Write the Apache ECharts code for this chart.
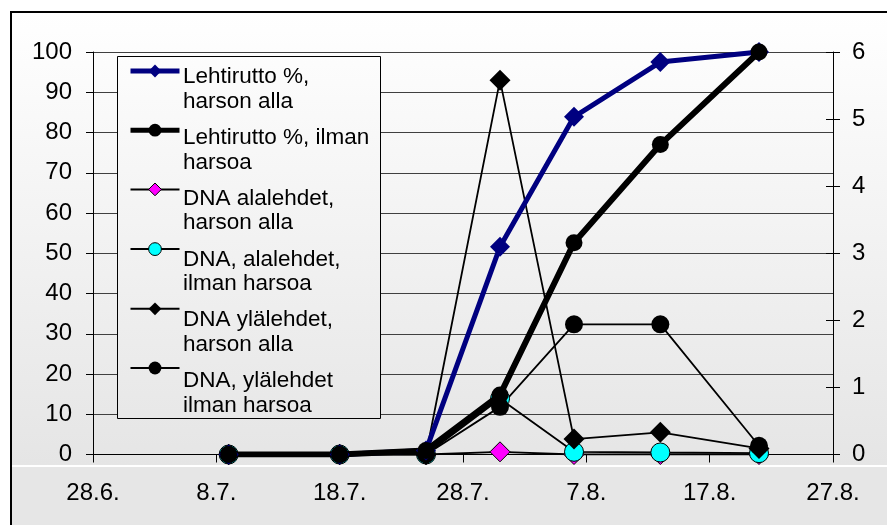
<!DOCTYPE html>
<html><head><meta charset="utf-8">
<script src="https://cdn.jsdelivr.net/npm/echarts@6/dist/echarts.min.js"></script>
<style>html,body{margin:0;padding:0;background:#fff}#c{width:887px;height:525px}</style>
</head><body><div id="c"></div>
<script>
// sampling dates (day.month.)
const sampleDates = ['9.7.', '18.7.', '25.7.', '31.7.', '6.8.', '13.8.', '21.8.'];
const axisStart = '28.6.';
const axisEnd = '27.8.';
const seriesNames = [
  'Lehtirutto %,\nharson alla',
  'Lehtirutto %, ilman\nharsoa',
  'DNA alalehdet,\nharson alla',
  'DNA, alalehdet,\nilman harsoa',
  'DNA ylälehdet,\nharson alla',
  'DNA, ylälehdet\nilman harsoa'
];
// left axis (%)
const lehtiruttoHarsonAlla = [0, 0, 1, 51.6, 83.9, 97.5, 100];
const lehtiruttoIlmanHarsoa = [0, 0, 1, 14.8, 52.6, 77, 100];
// right axis (DNA)
const dnaAlaHarsonAlla = [0, 0, 0, 0.04, 0, 0, 0];
const dnaAlaIlmanHarsoa = [0, 0, 0, 0.83, 0.04, 0.03, 0.02];
const dnaYlaHarsonAlla = [0, 0, 0, 5.58, 0.23, 0.33, 0.09];
const dnaYlaIlmanHarsoa = [0, 0, 0, 0.71, 1.94, 1.94, 0.13];

function toDate(s) { const p = s.split('.'); return new Date(2000, +p[1] - 1, +p[0]); }
const base = toDate(axisStart);
function offset(s) { return Math.round((toDate(s) - base) / 86400000); }
function label(v) { const d = new Date(2000, base.getMonth(), base.getDate() + v); return d.getDate() + '.' + (d.getMonth() + 1) + '.'; }
const xs = sampleDates.map(offset);
const pairs = arr => arr.map((v, i) => [xs[i], v]);

const FONT = "'Liberation Sans', Arial, sans-serif";
const bgGrad = { type: 'linear', x: 0, y: 12, x2: 0, y2: 465, global: true,
  colorStops: [{ offset: 0, color: '#ffffff' }, { offset: 1, color: '#e5e5e5' }] };

const styles = [
  { symbol: 'diamond', size: 20, color: '#000080', line: '#000080', width: 5, lw: 5, axis: 0, z: 3 },
  { symbol: 'circle', size: 17, color: '#000000', line: '#000000', width: 6, lw: 5, axis: 0, z: 3 },
  { symbol: 'diamond', size: 20, color: '#ff00ff', line: '#000000', width: 1.8, lw: 2, axis: 1, z: 2, border: true },
  { symbol: 'circle', size: 19, color: '#00ffff', line: '#000000', width: 1.8, lw: 2, axis: 1, z: 2, border: true },
  { symbol: 'diamond', size: 21, color: '#000000', line: '#000000', width: 1.8, lw: 2, axis: 1, z: 2 },
  { symbol: 'circle', size: 18, color: '#000000', line: '#000000', width: 1.8, lw: 2, axis: 1, z: 2 }
];
const values = [lehtiruttoHarsonAlla, lehtiruttoIlmanHarsoa, dnaAlaHarsonAlla, dnaAlaIlmanHarsoa, dnaYlaHarsonAlla, dnaYlaIlmanHarsoa];

// legend layout
const LEG_TOP = 71, LEG_STEP = 60.8, LEG_ICON_H = 16;
const legendTexts = seriesNames.map((n, i) => ({
  type: 'text', z: 5, silent: true,
  x: 183, y: LEG_TOP + LEG_STEP * i + 6 - 12.25,
  style: { text: n, font: '22.5px ' + FONT, fill: '#000', lineHeight: 24.5, verticalAlign: 'top', align: 'left' }
}));

const chart = echarts.init(document.getElementById('c'), null, { renderer: 'canvas' });
chart.setOption({
  animation: false,
  backgroundColor: '#ffffff',
  textStyle: { fontFamily: FONT },
  graphic: [
    { type: 'rect', z: -10, silent: true, shape: { x: 11, y: 12, width: 876, height: 453 }, style: { fill: bgGrad } },
    { type: 'rect', z: -10, silent: true, shape: { x: 11, y: 467, width: 876, height: 58 }, style: { fill: '#e6e6e6' } },
    { type: 'polyline', z: -9, silent: true, shape: { points: [[11, 525], [11, 12], [887, 12]] }, style: { stroke: '#000', lineWidth: 2, fill: null } },
    { type: 'rect', z: 1, silent: true, shape: { x: 117.5, y: 56.5, width: 263, height: 362 }, style: { fill: bgGrad, stroke: '#000', lineWidth: 1 } }
  ].concat(legendTexts),
  grid: { left: 93, right: 54, top: 52, bottom: 70.5, containLabel: false },
  legend: {
    orient: 'vertical', left: 128, top: LEG_TOP - LEG_ICON_H / 2, padding: 0,
    itemWidth: 49, itemHeight: LEG_ICON_H, itemGap: LEG_STEP - LEG_ICON_H,
    selectedMode: false,
    formatter: () => '',
    textStyle: { fontSize: 1 },
    data: seriesNames.map((n, i) => ({
      name: n,
      lineStyle: { color: styles[i].line, width: styles[i].lw },
      itemStyle: { color: styles[i].color, borderColor: '#000', borderWidth: styles[i].border ? 1 : 0 }
    }))
  },
  xAxis: {
    type: 'value', min: 0, max: offset(axisEnd), interval: 10,
    axisLine: { show: true, onZero: false, lineStyle: { color: '#000', width: 1 } },
    axisTick: { show: true, length: 8, lineStyle: { color: '#000' } },
    splitLine: { show: false },
    axisLabel: { formatter: label, fontSize: 24, color: '#000', margin: 27, fontFamily: FONT }
  },
  yAxis: [
    { type: 'value', min: 0, max: 100, interval: 10, position: 'left',
      axisLine: { show: true, lineStyle: { color: '#000' } },
      axisTick: { show: true, length: 7, lineStyle: { color: '#000' } },
      splitLine: { show: true, lineStyle: { color: '#404040', width: 1 } },
      axisLabel: { fontSize: 24, color: '#000', margin: 21, padding: [6, 0, 0, 0], fontFamily: FONT } },
    { type: 'value', min: 0, max: 6, interval: 1, position: 'right',
      axisLine: { show: true, lineStyle: { color: '#000' } },
      axisTick: { show: true, length: 7, lineStyle: { color: '#000' } },
      splitLine: { show: false },
      axisLabel: { fontSize: 24, color: '#000', margin: 19, padding: [6, 0, 0, 0], fontFamily: FONT } },
    { type: 'value', min: 0, max: 6, interval: 1, position: 'right',
      axisLine: { show: false },
      axisTick: { show: true, inside: true, length: 7, lineStyle: { color: '#000' } },
      splitLine: { show: false }, axisLabel: { show: false } }
  ],
  series: values.map((arr, i) => ({
    name: seriesNames[i], type: 'line', yAxisIndex: styles[i].axis, z: styles[i].z,
    data: pairs(arr),
    symbol: styles[i].symbol, symbolSize: styles[i].size, showAllSymbol: true,
    lineStyle: { color: styles[i].line, width: styles[i].width },
    itemStyle: { color: styles[i].color, borderColor: '#000', borderWidth: styles[i].border ? 1 : 0 },
    emphasis: { disabled: true }
  }))
});
</script></body></html>
